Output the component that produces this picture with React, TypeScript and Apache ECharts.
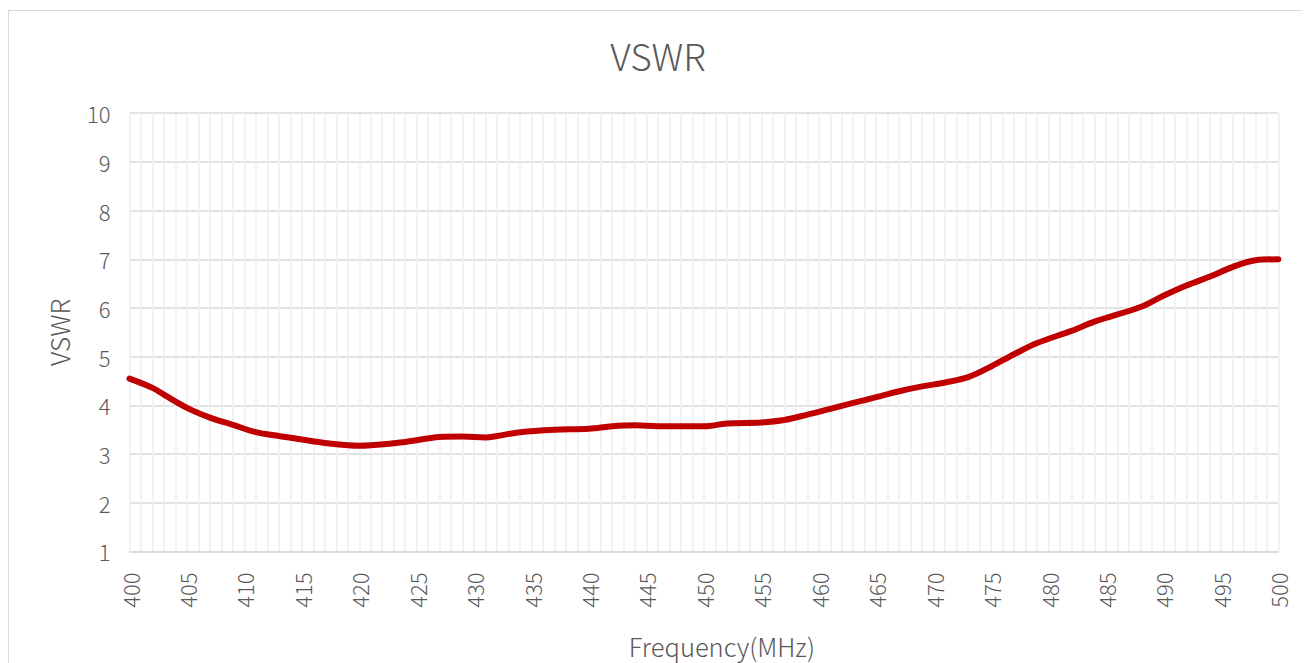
import React, { useEffect, useRef } from "react";
import * as echarts from "echarts";

const frequencies = [
  400, 402, 403, 405, 407, 409, 411, 413, 415, 417, 419, 420, 421, 424, 427, 429,
  431, 432, 434, 437, 440, 442, 444, 446, 450, 452, 455, 457, 459, 461, 463, 465,
  467, 469, 471, 473, 475, 477, 479, 482, 484, 488, 490, 492, 494, 496, 498, 500,
];
const vswr = [
  4.55, 4.36, 4.22, 3.95, 3.75, 3.6, 3.45, 3.37, 3.3, 3.23, 3.18, 3.17, 3.18, 3.25, 3.35, 3.36,
  3.34, 3.37, 3.45, 3.5, 3.52, 3.57, 3.59, 3.57, 3.57, 3.63, 3.65, 3.7, 3.81, 3.93, 4.05, 4.17,
  4.29, 4.39, 4.47, 4.58, 4.8, 5.05, 5.28, 5.53, 5.72, 6.02, 6.25, 6.46, 6.64, 6.84, 6.98, 7.0,
];
const titleText = "VSWR";
const xName = "Frequency(MHz)";
const yName = "VSWR";

const FONT = "'Noto Sans CJK SC', 'Noto Sans', sans-serif";
const TEXT = "#595959";

export default function App() {
  const ref = useRef<HTMLDivElement>(null);
  useEffect(() => {
    if (!ref.current) return;
    const chart = echarts.init(ref.current, undefined, { renderer: "svg" });
    chart.setOption({
      animation: false,
      title: {
        text: titleText,
        left: "center",
        top: 20,
        textStyle: { color: TEXT, fontSize: 37, fontWeight: 300, fontFamily: FONT },
      },
      grid: { left: 120.5, right: 28.7, top: 102.2, bottom: 109.7, containLabel: false },
      xAxis: {
        type: "value",
        min: 400,
        max: 500,
        interval: 5,
        name: xName,
        nameLocation: "middle",
        nameGap: 81,
        nameTextStyle: { color: TEXT, fontSize: 25.5, fontWeight: 300, fontFamily: FONT, padding: [0, 0, 0, 36] },
        axisLine: { show: true, lineStyle: { color: "#d9d9d9", width: 1.5 } },
        axisTick: { show: false },
        axisLabel: { rotate: 90, margin: 21, color: TEXT, fontSize: 22, fontWeight: 300, fontFamily: FONT },
        splitLine: { show: true, lineStyle: { color: "#eeeeee", width: 1.5 } },
        minorTick: { show: false, splitNumber: 5 },
        minorSplitLine: { show: true, lineStyle: { color: "#eeeeee", width: 1.5 } },
      },
      yAxis: {
        type: "value",
        min: 1,
        max: 10,
        interval: 1,
        name: yName,
        nameLocation: "middle",
        nameGap: 58,
        nameTextStyle: { color: TEXT, fontSize: 26, fontWeight: 300, fontFamily: FONT },
        axisLine: { show: false },
        axisTick: { show: false },
        axisLabel: { margin: 19, color: TEXT, fontSize: 22, fontWeight: 300, fontFamily: FONT },
        splitLine: { show: true, lineStyle: { color: "#d9d9d9", width: 1.5 } },
      },
      series: [
        {
          type: "line",
          data: frequencies.map((f, i) => [f, vswr[i]]),
          smooth: 0.35,
          showSymbol: false,
          symbol: "none",
          lineStyle: { color: "#c00000", width: 6, cap: "round" },
        },
      ],
    });
    return () => chart.dispose();
  }, []);
  return (
    <div style={{ width: 1300, height: 655, boxSizing: "border-box", paddingTop: 2 }}>
      <div
        style={{
          width: 1300,
          height: 653,
          boxSizing: "border-box",
          border: "1px solid #d9d9d9",
          borderBottom: "none",
        }}
      >
        <div ref={ref} style={{ width: 1298, height: 652 }} />
      </div>
    </div>
  );
}
